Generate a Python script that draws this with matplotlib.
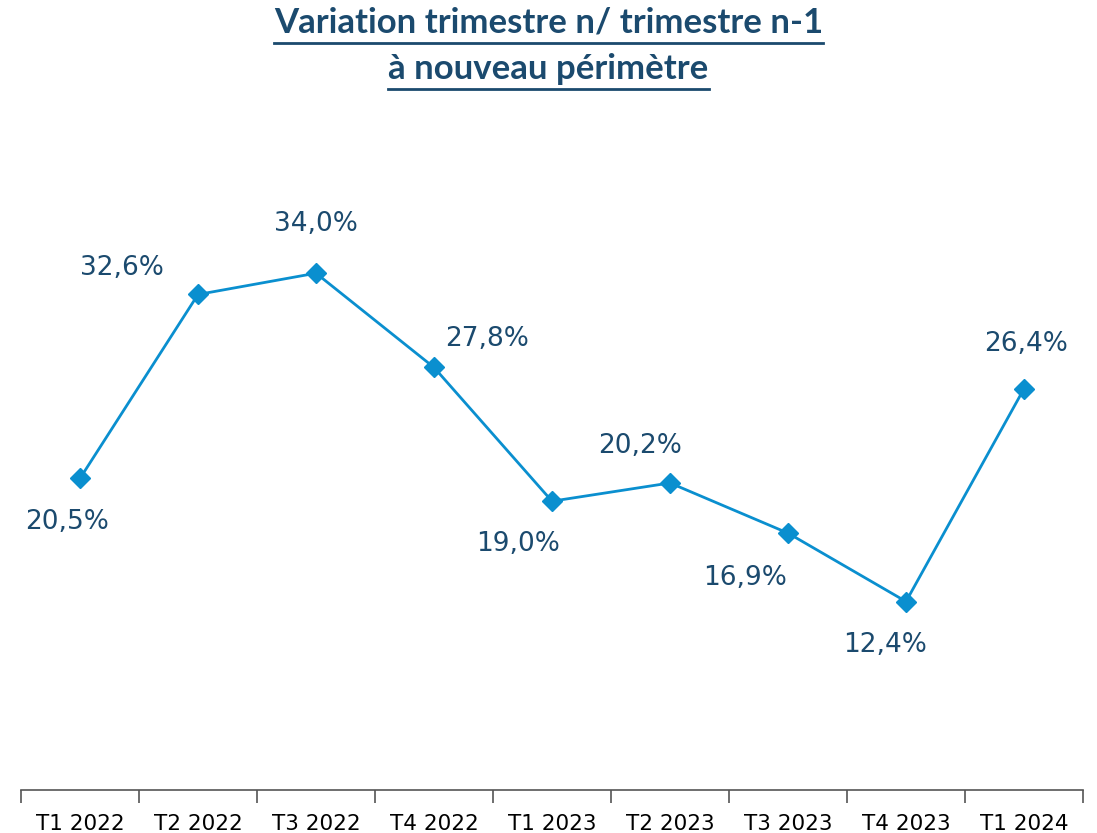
import matplotlib
matplotlib.use("Agg")
import matplotlib.pyplot as plt
from matplotlib.lines import Line2D

# données
trimestres = ['T1 2022', 'T2 2022', 'T3 2022', 'T4 2022', 'T1 2023',
              'T2 2023', 'T3 2023', 'T4 2023', 'T1 2024']
variation = [20.5, 32.6, 34.0, 27.8, 19.0, 20.2, 16.9, 12.4, 26.4]
etiquettes = ['20,5%', '32,6%', '34,0%', '27,8%', '19,0%',
              '20,2%', '16,9%', '12,4%', '26,4%']

# décalage des étiquettes (pixels)
decalages = [(-13, -44), (-76, 26), (0, 49), (53, 28), (-34, -43),
             (-30, 37), (-43, -45), (-21, -43), (2, 45)]

bleu_ligne = '#0A8FCF'
bleu_texte = '#1B4A6E'

fig = plt.figure(figsize=(10.97, 8.33), dpi=100)
ax = fig.add_axes([21 / 1097, 43 / 833, (1083 - 21) / 1097, (651 - 43) / 833])

x = list(range(len(trimestres)))
ax.plot(x, variation, color=bleu_ligne, lw=2, marker='D', markersize=10,
        markerfacecolor=bleu_ligne, markeredgecolor=bleu_ligne, clip_on=False)

for xi, yi, lab, (dx, dy) in zip(x, variation, etiquettes, decalages):
    ax.annotate(lab, (xi, yi), xytext=(dx, dy), textcoords='offset pixels',
                ha='center', va='center', fontsize=19, color=bleu_texte,
                family='DejaVu Sans')

ax.set_xlim(-0.5, len(trimestres) - 0.5)
ax.set_ylim(0, 40)
for s in ['top', 'right', 'left']:
    ax.spines[s].set_visible(False)
ax.spines['bottom'].set_color('#555555')
ax.spines['bottom'].set_linewidth(1.2)
ax.set_yticks([])

# graduations entre les catégories
ax.set_xticks([i - 0.5 for i in range(len(trimestres) + 1)])
ax.set_xticklabels([])
ax.tick_params(axis='x', which='major', length=9, width=1.2, color='#555555', direction='out')
ax.set_xticks(x, minor=True)
ax.set_xticklabels(trimestres, minor=True, fontsize=15.5, color='black')
ax.tick_params(axis='x', which='minor', length=0, pad=17)

# titre souligné
t1 = fig.text(0.5, 1 - 22 / 833, 'Variation trimestre n/ trimestre n-1', ha='center', va='center',
              fontsize=25, fontweight='bold', color=bleu_texte, family='Lato')
t2 = fig.text(0.5, 1 - 69 / 833, 'à nouveau périmètre', ha='center', va='center',
              fontsize=25, fontweight='bold', color=bleu_texte, family='Lato')
fig.canvas.draw()
r = fig.canvas.get_renderer()
for t, yline in [(t1, 43), (t2, 89)]:
    bb = t.get_window_extent(r)
    x0 = bb.x0 / 1097
    x1 = bb.x1 / 1097
    fig.add_artist(Line2D([x0, x1], [1 - yline / 833] * 2, color=bleu_texte, lw=2))

fig.savefig('out.png', dpi=100)
